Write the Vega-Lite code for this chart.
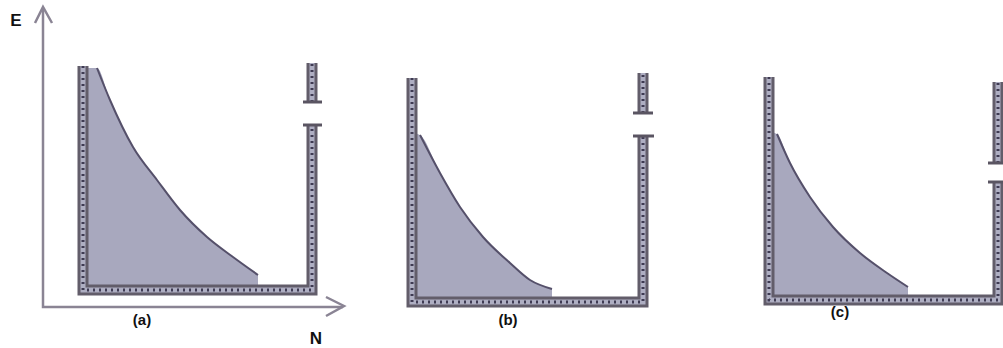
{
  "$schema": "https://vega.github.io/schema/vega-lite/v6.json",
  "width": 1003,
  "height": 348,
  "padding": 0,
  "autosize": {"type": "none"},
  "background": "white",
  "config": {"view": {"stroke": null}},
  "datasets": {
    "shade": [
      {"p": "a", "x": 84, "y": 68, "y2": 288},
      {"p": "a", "x": 97, "y": 68, "y2": 288},
      {"p": "a", "x": 110, "y": 100, "y2": 288},
      {"p": "a", "x": 133, "y": 147, "y2": 288},
      {"p": "a", "x": 157, "y": 180, "y2": 288},
      {"p": "a", "x": 180, "y": 210, "y2": 288},
      {"p": "a", "x": 207, "y": 237, "y2": 288},
      {"p": "a", "x": 233, "y": 257, "y2": 288},
      {"p": "a", "x": 258, "y": 275, "y2": 288},
      {"p": "b", "x": 413, "y": 133, "y2": 299},
      {"p": "b", "x": 420, "y": 135, "y2": 299},
      {"p": "b", "x": 440, "y": 173, "y2": 299},
      {"p": "b", "x": 460, "y": 207, "y2": 299},
      {"p": "b", "x": 483, "y": 237, "y2": 299},
      {"p": "b", "x": 510, "y": 263, "y2": 299},
      {"p": "b", "x": 530, "y": 280, "y2": 299},
      {"p": "b", "x": 552, "y": 289, "y2": 299},
      {"p": "c", "x": 770, "y": 132, "y2": 297},
      {"p": "c", "x": 777, "y": 134, "y2": 297},
      {"p": "c", "x": 790, "y": 163, "y2": 297},
      {"p": "c", "x": 810, "y": 197, "y2": 297},
      {"p": "c", "x": 833, "y": 227, "y2": 297},
      {"p": "c", "x": 860, "y": 253, "y2": 297},
      {"p": "c", "x": 887, "y": 273, "y2": 297},
      {"p": "c", "x": 908, "y": 287, "y2": 297}
    ],
    "curve": [
      {"p": "a", "x": 97, "y": 68},
      {"p": "a", "x": 110, "y": 100},
      {"p": "a", "x": 133, "y": 147},
      {"p": "a", "x": 157, "y": 180},
      {"p": "a", "x": 180, "y": 210},
      {"p": "a", "x": 207, "y": 237},
      {"p": "a", "x": 233, "y": 257},
      {"p": "a", "x": 258, "y": 275},
      {"p": "b", "x": 420, "y": 135},
      {"p": "b", "x": 440, "y": 173},
      {"p": "b", "x": 460, "y": 207},
      {"p": "b", "x": 483, "y": 237},
      {"p": "b", "x": 510, "y": 263},
      {"p": "b", "x": 530, "y": 280},
      {"p": "b", "x": 552, "y": 289},
      {"p": "c", "x": 777, "y": 134},
      {"p": "c", "x": 790, "y": 163},
      {"p": "c", "x": 810, "y": 197},
      {"p": "c", "x": 833, "y": 227},
      {"p": "c", "x": 860, "y": 253},
      {"p": "c", "x": 887, "y": 273},
      {"p": "c", "x": 908, "y": 287}
    ],
    "walls": [
      {"w": "a1", "o": 1, "x": 83, "y": 66},
      {"w": "a1", "o": 2, "x": 83, "y": 290},
      {"w": "a1", "o": 3, "x": 312, "y": 290},
      {"w": "a1", "o": 4, "x": 312, "y": 125},
      {"w": "a2", "o": 1, "x": 312, "y": 102},
      {"w": "a2", "o": 2, "x": 312, "y": 63},
      {"w": "b1", "o": 1, "x": 412, "y": 78},
      {"w": "b1", "o": 2, "x": 412, "y": 302},
      {"w": "b1", "o": 3, "x": 643, "y": 302},
      {"w": "b1", "o": 4, "x": 643, "y": 136},
      {"w": "b2", "o": 1, "x": 643, "y": 113},
      {"w": "b2", "o": 2, "x": 643, "y": 73},
      {"w": "c1", "o": 1, "x": 769, "y": 77},
      {"w": "c1", "o": 2, "x": 769, "y": 300},
      {"w": "c1", "o": 3, "x": 998, "y": 300},
      {"w": "c1", "o": 4, "x": 998, "y": 182},
      {"w": "c2", "o": 1, "x": 998, "y": 163},
      {"w": "c2", "o": 2, "x": 998, "y": 82}
    ],
    "caps": [
      {"x": 303, "x2": 322, "y": 102},
      {"x": 303, "x2": 322, "y": 125},
      {"x": 633, "x2": 653, "y": 113},
      {"x": 633, "x2": 654, "y": 136},
      {"x": 988, "x2": 1003, "y": 163},
      {"x": 988, "x2": 1003, "y": 182}
    ],
    "axes": [
      {"g": "ax", "o": 1, "x": 43, "y": 8},
      {"g": "ax", "o": 2, "x": 43, "y": 307},
      {"g": "ax", "o": 3, "x": 343, "y": 307},
      {"g": "h1", "o": 1, "x": 35, "y": 23},
      {"g": "h1", "o": 2, "x": 43, "y": 7},
      {"g": "h1", "o": 3, "x": 52, "y": 23},
      {"g": "h2", "o": 1, "x": 326, "y": 297},
      {"g": "h2", "o": 2, "x": 344, "y": 306},
      {"g": "h2", "o": 3, "x": 326, "y": 316}
    ],
    "labels": [
      {"t": "E", "x": 16, "y": 21, "s": 17},
      {"t": "N", "x": 316, "y": 339, "s": 17},
      {"t": "(a)", "x": 142, "y": 320, "s": 15},
      {"t": "(b)", "x": 508, "y": 320, "s": 15},
      {"t": "(c)", "x": 840, "y": 312, "s": 15}
    ]
  },
  "encoding": {
    "x": {"field": "x", "type": "quantitative", "scale": {"domain": [0, 1003], "nice": false, "zero": false}, "axis": null},
    "y": {"field": "y", "type": "quantitative", "scale": {"domain": [0, 348], "nice": false, "zero": false, "reverse": true}, "axis": null}
  },
  "layer": [
    {
      "data": {"name": "shade"},
      "mark": {"type": "area", "color": "#a8a8be", "opacity": 1, "interpolate": "monotone"},
      "encoding": {
        "y2": {"field": "y2"},
        "detail": {"field": "p"}
      }
    },
    {
      "data": {"name": "curve"},
      "mark": {"type": "line", "color": "#55506a", "strokeWidth": 2, "interpolate": "monotone"},
      "encoding": {"detail": {"field": "p"}}
    },
    {
      "data": {"name": "axes"},
      "mark": {"type": "line", "color": "#8a8494", "strokeWidth": 2.5},
      "encoding": {"detail": {"field": "g"}, "order": {"field": "o"}}
    },
    {
      "data": {"name": "walls"},
      "mark": {"type": "line", "color": "#625d6a", "strokeWidth": 11, "strokeJoin": "miter"},
      "encoding": {"detail": {"field": "w"}, "order": {"field": "o"}}
    },
    {
      "data": {"name": "walls"},
      "mark": {"type": "line", "color": "#aeaec2", "strokeWidth": 5, "strokeJoin": "miter"},
      "encoding": {"detail": {"field": "w"}, "order": {"field": "o"}}
    },
    {
      "data": {"name": "walls"},
      "mark": {"type": "line", "color": "#3e3a52", "strokeWidth": 3, "strokeDash": [2, 4], "strokeJoin": "miter"},
      "encoding": {"detail": {"field": "w"}, "order": {"field": "o"}}
    },
    {
      "data": {"name": "caps"},
      "mark": {"type": "rule", "color": "#5a5562", "strokeWidth": 3},
      "encoding": {"x2": {"field": "x2"}}
    },
    {
      "data": {"name": "labels"},
      "mark": {"type": "text", "font": "Liberation Sans", "fontWeight": "bold", "color": "#111111", "align": "center", "baseline": "middle"},
      "encoding": {
        "text": {"field": "t"},
        "size": {"field": "s", "type": "quantitative", "scale": null}
      }
    }
  ]
}
